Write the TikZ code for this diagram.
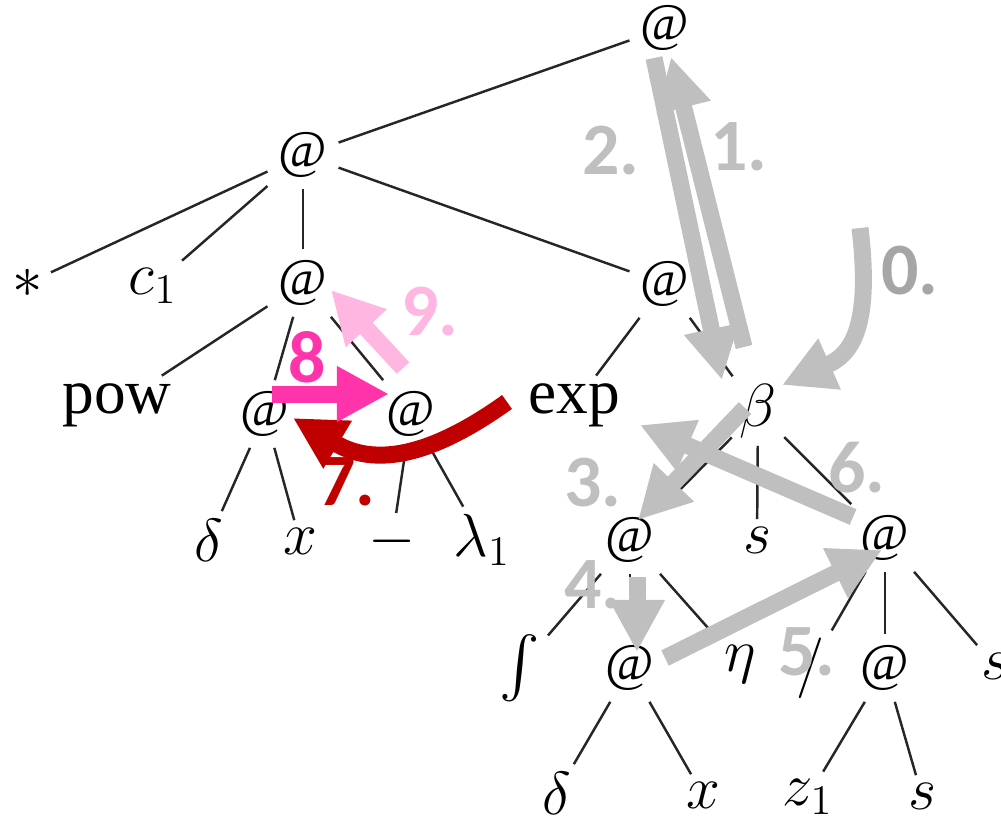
\documentclass[tikz,border=0pt]{standalone}
\usepackage{fontspec}
\usepackage{exscale}
\setmainfont{Liberation Serif}
\newfontfamily\lblfont{Carlito}
\usetikzlibrary{arrows.meta}
\definecolor{arrgray}{HTML}{BFBFBF}
\definecolor{lblgray}{HTML}{A6A6A6}
\definecolor{darkred}{HTML}{C00000}
\definecolor{hotpink}{HTML}{FF33AA}
\definecolor{lightpink}{HTML}{FFB6E1}
\tikzset{
  tn/.style={inner sep=2pt, font=\fontsize{18}{21}\selectfont},
  atn/.style={inner sep=3pt, font=\fontsize{15}{18}\selectfont},
  tedge/.style={line width=0.7pt, black!85},
  bigarrow/.style={line width=0.17cm, -{Triangle[length=0.52cm,width=0.52cm]}},
  numlbl/.style={inner sep=0pt, font=\lblfont\bfseries\fontsize{21}{24}\selectfont}
}

\begin{document}
\begin{tikzpicture}[x=0.01cm,y=-0.01cm]
                \useasboundingbox (0,0) rectangle (1001,818);
                \node[atn] (r) at (665,28) {@};
                \node[atn] (l1) at (303,155) {@};
                \node[tn] (st) at (28,283) {$*$};
                \node[tn] (c1) at (153,286) {$c_1$};
                \node[atn] (l2) at (303,283) {@};
                \node[atn] (ra) at (665,284) {@};
                \node[tn] (pow) at (117,405) {pow};
                \node[atn] (aa) at (265,414) {@};
                \node[atn] (ab) at (411,414) {@};
                \node[tn] (exp) at (574,405) {exp};
                \node[tn] (beta) at (758,411) {$\beta$};
                \node[tn] (d1) at (209,540) {$\delta$};
                \node[tn] (x1) at (300,541) {$x$};
                \node[tn] (mn) at (392,541) {$-$};
                \node[tn] (lam) at (482,540) {$\lambda_1$};
                \node[atn] (ac) at (630,540) {@};
                \node[tn] (s1) at (757,540) {$s$};
                \node[atn] (ad) at (885,538) {@};
                \node[tn] (int) at (520,668) {$\int$};
                \node[atn] (ae) at (630,668) {@};
                \node[tn] (eta) at (740,664) {$\eta$};
                \node[tn] (sl) at (810,668) {$/$};
                \node[atn] (af) at (885,668) {@};
                \node[tn] (s2) at (995,666) {$s$};
                \node[tn] (d2) at (557,793) {$\delta$};
                \node[tn] (x2) at (703,795) {$x$};
                \node[tn] (z1) at (808,797) {$z_1$};
                \node[tn] (s3) at (922,796) {$s$};
                \foreach \a/\b in {r/l1, l1/st, l1/c1, l1/l2, l1/ra, l2/pow, l2/aa, l2/ab,
                    aa/d1, aa/x1, ab/mn, ab/lam, ra/exp, ra/beta, beta/ac, beta/s1, beta/ad,
                    ac/int, ac/ae, ac/eta, ad/sl, ad/af, ad/s2, ae/d2, ae/x2, af/z1, af/s3}
                    \draw[tedge] (\a) -- (\b);
                \coordinate (t0) at (860,228);
                \coordinate (h0) at (782,385);
                \coordinate (t1) at (744,347);
                \coordinate (h1) at (671,57);
                \coordinate (t2) at (654,58);
                \coordinate (h2) at (722,380);
                \coordinate (t3) at (745,408);
                \coordinate (h3) at (638,520);
                \coordinate (t4) at (637,577);
                \coordinate (h4) at (637,652);
                \coordinate (t5) at (665,658);
                \coordinate (h5) at (882,550);
                \coordinate (t6) at (853,517);
                \coordinate (h6) at (640,425);
                \coordinate (t7) at (507,402);
                \coordinate (h7) at (293,418);
                \coordinate (t8) at (272,394);
                \coordinate (h8) at (389,394);
                \coordinate (t9) at (403,368);
                \coordinate (h9) at (331,290);
                \draw[bigarrow, arrgray] (t0) .. controls (872,330) and (850,355) .. (h0);
                \foreach \i in {1,...,6}
                    \draw[bigarrow, arrgray] (t\i) -- (h\i);
                \draw[bigarrow, darkred] (t7) .. controls (440,450) and (380,470) .. (h7);
                \draw[bigarrow, hotpink] (t8) -- (h8);
                \draw[bigarrow, lightpink] (t9) -- (h9);
                \node[numlbl, text=lblgray] (n0) at (910,271) {0.};
                \node[numlbl, text=arrgray] (n1) at (739,147) {1.};
                \node[numlbl, text=arrgray] (n2) at (611,151) {2.};
                \node[numlbl, text=arrgray] (n3) at (593,483) {3.};
                \node[numlbl, text=arrgray] (n4) at (593,585) {4.};
                \node[numlbl, text=arrgray] (n5) at (807,652) {5.};
                \node[numlbl, text=arrgray] (n6) at (857,468) {6.};
                \node[numlbl, text=darkred] (n7) at (347,482) {7.};
                \node[numlbl, text=hotpink] (n8) at (307,357) {8};
                \node[numlbl, text=lightpink] (n9) at (430,312) {9.};
            \end{tikzpicture}
\end{document}
